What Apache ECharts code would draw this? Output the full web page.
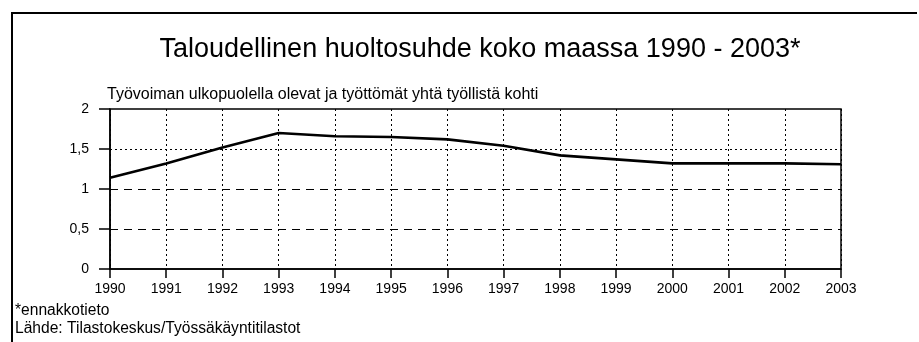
<!DOCTYPE html>
<html>
<head>
<meta charset="utf-8">
<script src="https://cdn.jsdelivr.net/npm/echarts@6/dist/echarts.min.js"></script>
<style>
  html, body { margin: 0; padding: 0; background: #fff; }
  #chart { width: 919px; height: 342px; }
</style>
</head>
<body>
<div id="chart"></div>
<script>
// Economic dependency ratio, whole country, 1990-2003
const years = ['1990', '1991', '1992', '1993', '1994', '1995', '1996',
               '1997', '1998', '1999', '2000', '2001', '2002', '2003'];
const ratio = [1.14, 1.32, 1.52, 1.70, 1.66, 1.65, 1.62,
               1.54, 1.42, 1.37, 1.32, 1.32, 1.32, 1.31];
const yTicks = [0, 0.5, 1, 1.5, 2];

const titleText = 'Taloudellinen huoltosuhde koko maassa 1990 - 2003*';
const subtitleText = 'Työvoiman ulkopuolella olevat ja työttömät yhtä työllistä kohti';
const noteText = '*ennakkotieto';
const sourceText = 'Lähde: Tilastokeskus/Työssäkäyntitilastot';

const FONT = '"Liberation Sans", Arial, Helvetica, sans-serif';
const chart = echarts.init(document.getElementById('chart'), null, { renderer: 'canvas' });

const gridLineStyles = {
  1.5: { type: [2, 3], width: 1 },
  1: { type: [8, 6], width: 1 },
  0.5: { type: [8, 6], width: 1 }
};

function textItem(x, y, text, size, align) {
  return {
    type: 'text', silent: true,
    style: { x: x, y: y, text: text, fontSize: size, fontFamily: FONT,
             fill: '#000', align: align, verticalAlign: 'middle' }
  };
}

chart.setOption({
  animation: false,
  backgroundColor: '#fff',
  textStyle: { fontFamily: FONT, color: '#000' },
  grid: {
    left: 110, right: 78, top: 109, height: 160,
    show: true, borderColor: '#000', borderWidth: 1.5, backgroundColor: 'transparent'
  },
  graphic: [
    // outer frame (left and top edges)
    { type: 'polyline', silent: true,
      shape: { points: [[12, 342], [12, 13], [917, 13]] },
      style: { stroke: '#000', lineWidth: 2, fill: null } },
    textItem(480, 50, titleText, 27, 'center'),
    textItem(107, 95, subtitleText, 16, 'left'),
    textItem(15, 311, noteText, 15.6, 'left'),
    textItem(15, 329, sourceText, 15.6, 'left')
  ],
  xAxis: {
    type: 'category',
    data: years,
    boundaryGap: false,
    axisLine: { show: true, lineStyle: { color: '#000', width: 1.5 } },
    axisTick: { show: true, length: 9, lineStyle: { color: '#000', width: 1.5 } },
    axisLabel: { color: '#000', fontSize: 14, fontFamily: FONT, margin: 13 },
    splitLine: { show: true, lineStyle: { color: '#000', type: [2, 3], width: 1 } }
  },
  yAxis: {
    type: 'value',
    min: yTicks[0], max: yTicks[yTicks.length - 1], interval: 0.5,
    axisLine: { show: true, lineStyle: { color: '#000', width: 1.5 } },
    axisTick: { show: true, length: 11, lineStyle: { color: '#000', width: 1.5 } },
    axisLabel: { color: '#000', fontSize: 14, fontFamily: FONT, margin: 21,
                 formatter: v => String(v).replace('.', ',') },
    splitLine: { show: false }
  },
  series: [{
    type: 'line',
    data: ratio,
    symbol: 'none',
    lineStyle: { color: '#000', width: 2.6 },
    z: 5,
    markLine: {
      silent: true,
      symbol: 'none',
      label: { show: false },
      z: 1,
      data: yTicks.filter(v => gridLineStyles[v]).map(v => ({
        yAxis: v,
        lineStyle: Object.assign({ color: '#000' }, gridLineStyles[v])
      }))
    }
  }]
});
</script>
</body>
</html>
